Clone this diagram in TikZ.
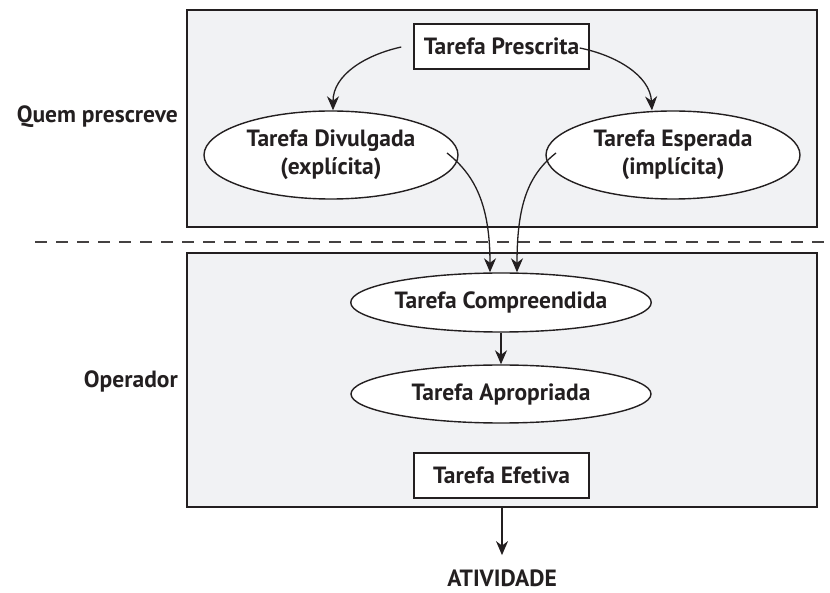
\documentclass[tikz,border=0pt]{standalone}
\usepackage{fontspec}
\setmainfont{PT Sans}
\usetikzlibrary{arrows.meta,shapes.geometric,calc}
\definecolor{boxfill}{HTML}{F1F2F4}
\definecolor{ink}{HTML}{231F20}
\begin{document}
\begin{tikzpicture}[x=1pt,y=-1pt,
  every node/.style={font=\fontsize{23.5}{28}\selectfont\bfseries, text=ink},
  panel/.style={draw=ink, line width=1.6pt, fill=boxfill, rectangle, inner sep=0pt},
  tbox/.style={draw=ink, line width=1.4pt, fill=white, rectangle, minimum width=175, minimum height=45, inner sep=0pt},
  ell/.style={draw=ink, line width=1.4pt, fill=white, ellipse, inner sep=0pt, align=center},
  arr/.style={draw=ink, line width=1.3pt, -{Stealth[length=14pt,width=12pt,inset=4.5pt]}},
  sep/.style={draw=ink!85, line width=1.5pt, dash pattern=on 12pt off 9pt}
]
\useasboundingbox (0,0) rectangle (830,593);
% panels
\node[panel, minimum width=630, minimum height=216.5] (top) at (502,118.5) {};
\node[panel, minimum width=630, minimum height=254] (bot) at (502,380) {};
% separator
\coordinate (dl) at (35,242);
\coordinate (dr) at (830,242);
\draw[sep] (dl) -- (dr);
% side labels
\node[anchor=base east, inner sep=0pt] (qp) at (178,123) {Quem prescreve};
\node[anchor=base east, inner sep=0pt] (op) at (178,388) {Operador};
% nodes
\node[tbox] (pres) at (501.5,46.5) {Tarefa Prescrita};
\node[ell, minimum width=254, minimum height=88] (div) at (331,155) {Tarefa Divulgada\\(explícita)};
\node[ell, minimum width=254, minimum height=88] (esp) at (673,155) {Tarefa Esperada\\(implícita)};
\node[ell, minimum width=300, minimum height=59] (comp) at (501,302.5) {Tarefa Compreendida};
\node[ell, minimum width=300, minimum height=58] (apr) at (501,394) {Tarefa Apropriada};
\node[tbox] (efe) at (501.5,475.5) {Tarefa Efetiva};
\node[anchor=base, inner sep=0pt] (ativ) at (502,586) {ATIVIDADE};
% connectors
\draw[arr] ($(pres.west)+(-12,0.5)$) .. controls (365,55) and (333,75) .. ($(div.north)+(2,0)$);
\draw[arr] ($(pres.east)+(-10,1.5)$) .. controls (615,55) and (650,75) .. ($(esp.north)+(-21,0)$);
\draw[arr] ($(div.center)+(116,-2)$) .. controls (475,175) and (490,205) .. ($(comp.north)+(-11,0)$);
\draw[arr] ($(esp.center)+(-117,-2)$) .. controls (528,175) and (517,205) .. ($(comp.north)+(16,0)$);
\draw[arr] (comp.south) -- (apr.north);
\draw[arr, shorten >=14pt] (bot.south) -- (ativ.north);
\end{tikzpicture}
\end{document}
